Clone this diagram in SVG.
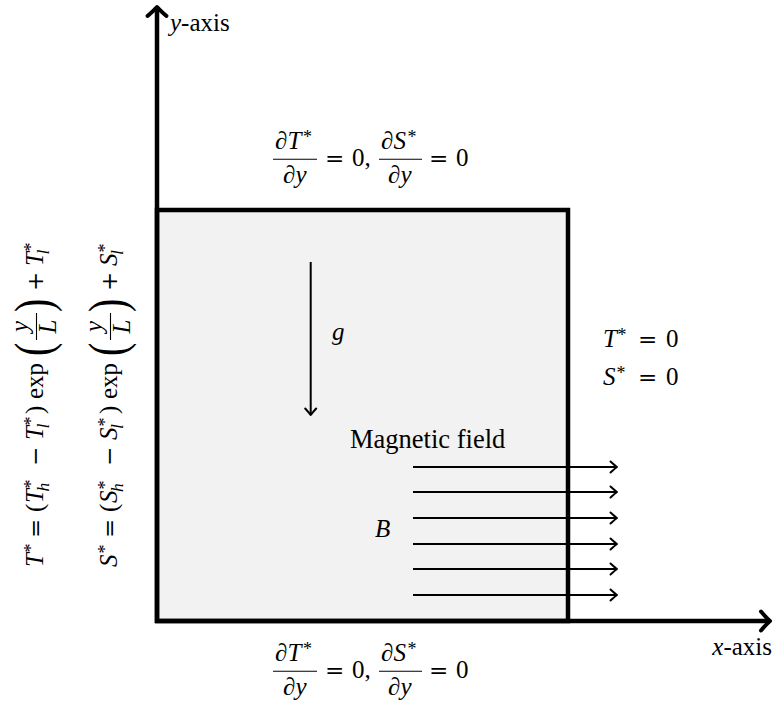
<svg xmlns="http://www.w3.org/2000/svg" width="775" height="702" viewBox="0 0 775 702">
<style>
text{font-family:'Liberation Serif','Times New Roman','DejaVu Serif',serif;font-size:25px;fill:#000}
.i{font-style:italic}
.sup{font-size:18px}
.sub{font-size:17.5px;font-style:italic}
.op{font-family:'DejaVu Serif','Liberation Serif',serif;font-size:23px}
.big{font-size:26.5px}
.bar{stroke:#000;stroke-width:1.1}
.ax{stroke:#000;stroke-width:4.5;fill:none}
.thin{stroke:#000;stroke-width:2;fill:none}
</style>
<defs>
<marker id="ah" markerUnits="userSpaceOnUse" markerWidth="20" markerHeight="20" viewBox="-10 -10 20 20" refX="0" refY="0" orient="auto" overflow="visible">
<path d="M -6.5 -5.5 Q -1.5 -1 0 0 Q -1.5 1 -6.5 5.5" fill="none" stroke="#000" stroke-width="2" stroke-linecap="round" stroke-linejoin="round"/>
</marker>
<marker id="axh" markerUnits="userSpaceOnUse" markerWidth="30" markerHeight="30" viewBox="-15 -15 30 30" refX="0" refY="0" orient="auto" overflow="visible">
<path d="M -9 -9.5 Q -3 -2.5 0 0 Q -3 2.5 -9 9.5" fill="none" stroke="#000" stroke-width="4" stroke-linecap="round" stroke-linejoin="round"/>
</marker>
</defs>

<g id="domain">
<rect x="157" y="210" width="411" height="411" fill="#f2f2f2" stroke="#000" stroke-width="4.5"/>
</g>

<g id="connectors">
<line id="y-axis-line" class="ax" x1="157" y1="623" x2="157" y2="7" marker-end="url(#axh)"/>
<line id="x-axis-line" class="ax" x1="155" y1="621" x2="770" y2="621" marker-end="url(#axh)"/>
<line id="gravity-arrow" class="thin" x1="310.7" y1="262" x2="310.7" y2="415" marker-end="url(#ah)"/>
<g id="field-arrows" class="thin">
<line x1="413" y1="467" x2="617" y2="467" marker-end="url(#ah)"/>
<line x1="413" y1="492" x2="617" y2="492" marker-end="url(#ah)"/>
<line x1="413" y1="518" x2="617" y2="518" marker-end="url(#ah)"/>
<line x1="413" y1="544" x2="617" y2="544" marker-end="url(#ah)"/>
<line x1="413" y1="569" x2="617" y2="569" marker-end="url(#ah)"/>
<line x1="413" y1="595" x2="617" y2="595" marker-end="url(#ah)"/>
</g>
</g>

<g id="labels" font-family="Liberation Serif, serif">
<g id="y-axis-label">
<text x="170" y="31"><tspan class="i">y</tspan>-axis</text>
</g>
<g id="x-axis-label">
<text x="772" y="655" text-anchor="end"><tspan class="i">x</tspan>-axis</text>
</g>

<g id="top-bc">
<text x="275" y="148.5">∂<tspan class="i" x="287.5" y="148.5">T</tspan><tspan class="sup" x="303" y="142.5">*</tspan></text>
<line class="bar" x1="273" y1="159.3" x2="317" y2="159.3"/>
<text x="283" y="182.5">∂<tspan class="i" x="295.5" y="182.5">y</tspan></text>
<text class="op" x="325" y="165.5">=</text>
<text x="352" y="165.5">0,</text>
<text x="381" y="148.5">∂<tspan class="i" x="393.5" y="148.5">S</tspan><tspan class="sup" x="407.5" y="142.5">*</tspan></text>
<line class="bar" x1="379" y1="159.3" x2="422" y2="159.3"/>
<text x="388" y="182.5">∂<tspan class="i" x="400.5" y="182.5">y</tspan></text>
<text class="op" x="429" y="165.5">=</text>
<text x="456" y="165.5">0</text>
</g>

<g id="bottom-bc">
<text x="275" y="660.5">∂<tspan class="i" x="287.5" y="660.5">T</tspan><tspan class="sup" x="303" y="654.5">*</tspan></text>
<line class="bar" x1="273" y1="671.3" x2="317" y2="671.3"/>
<text x="283" y="694.5">∂<tspan class="i" x="295.5" y="694.5">y</tspan></text>
<text class="op" x="325" y="677.5">=</text>
<text x="352" y="677.5">0,</text>
<text x="381" y="660.5">∂<tspan class="i" x="393.5" y="660.5">S</tspan><tspan class="sup" x="407.5" y="654.5">*</tspan></text>
<line class="bar" x1="379" y1="671.3" x2="422" y2="671.3"/>
<text x="388" y="694.5">∂<tspan class="i" x="400.5" y="694.5">y</tspan></text>
<text class="op" x="429" y="677.5">=</text>
<text x="456" y="677.5">0</text>
</g>

<g id="right-bc">
<text x="603" y="347"><tspan class="i">T</tspan><tspan class="sup" x="617.5" y="341">*</tspan></text>
<text class="op" x="638" y="347">=</text>
<text x="666" y="347">0</text>
<text x="603" y="385"><tspan class="i">S</tspan><tspan class="sup" x="616.5" y="379">*</tspan></text>
<text class="op" x="638" y="385">=</text>
<text x="666" y="385">0</text>
</g>

<g id="left-bc-T" transform="translate(42.5,567) rotate(-90)">
<text><tspan class="i" x="0" y="0">T</tspan><tspan class="sup" x="14.5" y="-6">*</tspan></text>
<text class="op" x="29" y="0">=</text>
<text x="55" y="0">(<tspan class="i" x="64" y="0">T</tspan><tspan class="sup" x="78.5" y="-6">*</tspan><tspan class="sub" x="75.5" y="6">h</tspan></text>
<text class="op" x="101" y="0">−</text>
<text><tspan class="i" x="127" y="0">T</tspan><tspan class="sup" x="141.5" y="-6">*</tspan><tspan class="sub" x="138.5" y="6">l</tspan><tspan x="153" y="0">)</tspan><tspan x="168" y="0">exp</tspan></text>
<text transform="translate(211,8.5) scale(0.75,1)" style="font-size:53px">(</text>
<text class="i" x="240.5" y="-15" text-anchor="middle">y</text>
<line class="bar" x1="227" y1="-6" x2="254" y2="-6"/>
<text class="i" x="240.5" y="13" text-anchor="middle">L</text>
<text transform="translate(255,8.5) scale(0.75,1)" style="font-size:53px">)</text>
<text class="op" x="276" y="0">+</text>
<text><tspan class="i" x="301" y="0">T</tspan><tspan class="sup" x="315.5" y="-6">*</tspan><tspan class="sub" x="312.5" y="6">l</tspan></text>
</g>

<g id="left-bc-S" transform="translate(116.5,567) rotate(-90)">
<text><tspan class="i" x="0" y="0">S</tspan><tspan class="sup" x="13.5" y="-6">*</tspan></text>
<text class="op" x="29" y="0">=</text>
<text x="55" y="0">(<tspan class="i" x="64" y="0">S</tspan><tspan class="sup" x="77.5" y="-6">*</tspan><tspan class="sub" x="75" y="6">h</tspan></text>
<text class="op" x="101" y="0">−</text>
<text><tspan class="i" x="127" y="0">S</tspan><tspan class="sup" x="140.5" y="-6">*</tspan><tspan class="sub" x="138" y="6">l</tspan><tspan x="153" y="0">)</tspan><tspan x="168" y="0">exp</tspan></text>
<text transform="translate(211,8.5) scale(0.75,1)" style="font-size:53px">(</text>
<text class="i" x="240.5" y="-15" text-anchor="middle">y</text>
<line class="bar" x1="227" y1="-6" x2="254" y2="-6"/>
<text class="i" x="240.5" y="13" text-anchor="middle">L</text>
<text transform="translate(255,8.5) scale(0.75,1)" style="font-size:53px">)</text>
<text class="op" x="276" y="0">+</text>
<text><tspan class="i" x="301" y="0">S</tspan><tspan class="sup" x="314.5" y="-6">*</tspan><tspan class="sub" x="312" y="6">l</tspan></text>
</g>

<g id="gravity-label">
<text class="i" x="332" y="340">g</text>
</g>
<g id="field-label">
<text class="big" x="350" y="448">Magnetic field</text>
</g>
<g id="B-label">
<text class="i" x="375" y="537">B</text>
</g>
</g>
</svg>
